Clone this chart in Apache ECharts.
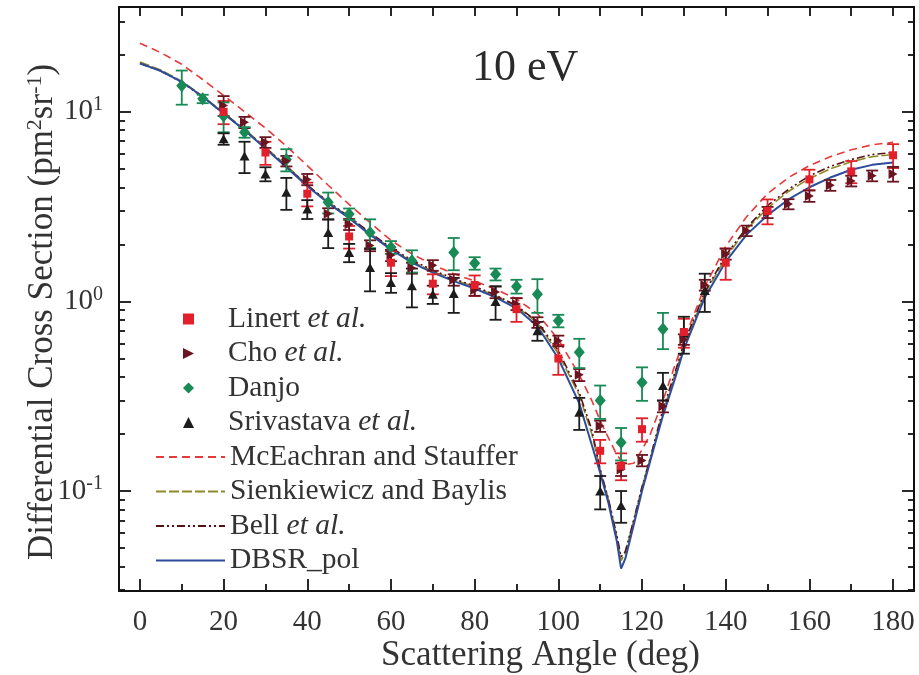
<!DOCTYPE html>
<html><head><meta charset="utf-8">
<script src="https://cdn.jsdelivr.net/npm/echarts@6/dist/echarts.min.js"></script>
<style>html,body{margin:0;padding:0;background:#fff}#c{width:919px;height:675px}</style>
</head><body><div id="c"></div>
<script>
// ---------- axis ticks ----------
const xMajorTicks = [0, 20, 40, 60, 80, 100, 120, 140, 160, 180];
const xMinorTicks = [10, 30, 50, 70, 90, 110, 130, 150, 170];
const xTopTicks = [0, 10, 20, 30, 40, 50, 60, 70, 80, 90, 100, 110, 120, 130, 140, 150, 160, 170, 180];
const yMajorTicks = [0.1, 1, 10];
const yMinorTicks = [0.03, 0.04, 0.05, 0.06, 0.07, 0.08, 0.09, 0.2, 0.3, 0.4, 0.5, 0.6, 0.7, 0.8, 0.9, 2, 3, 4, 5, 6, 7, 8, 9, 20, 30];
const xRange = [-5, 185];
const yRange = [0.0297, 35.7];

// ---------- theory curves ----------
const thAngle = [0,5,10,15,20,25,30,35,40,45,50,55,60,65,70,75,80,85,90,95,100,105,108,110,112,114,115,116,118,120,122,125,128,130,135,140,145,150,155,160,165,170,175,180];
const mcEachran = [23,20.5,17.8,14.8,12.2,10.0,8.2,6.6,5.2,4.1,3.25,2.6,2.1,1.78,1.56,1.4,1.28,1.16,1.03,0.86,0.63,0.41,0.3,0.235,0.19,0.155,0.145,0.138,0.14,0.165,0.2,0.3,0.47,0.62,1.2,1.95,2.8,3.7,4.5,5.2,5.8,6.3,6.7,6.9];
const sienkiewicz = [18.3,16.6,14.5,12.1,9.9,8.1,6.5,5.2,4.1,3.35,2.78,2.28,1.9,1.62,1.44,1.3,1.19,1.07,0.94,0.77,0.53,0.32,0.2,0.13,0.09,0.057,0.043,0.047,0.07,0.105,0.15,0.26,0.42,0.58,1.1,1.7,2.4,3.1,3.8,4.45,5.0,5.45,5.8,5.95];
const bell = [18.0,16.4,14.3,12.0,9.8,8.0,6.45,5.15,4.1,3.35,2.8,2.3,1.92,1.65,1.46,1.32,1.2,1.08,0.95,0.78,0.55,0.33,0.21,0.13,0.09,0.058,0.045,0.048,0.07,0.105,0.15,0.27,0.43,0.6,1.12,1.75,2.45,3.2,3.9,4.6,5.15,5.6,5.95,6.1];
const dbsr = [18.0,16.4,14.4,12.0,9.8,8.0,6.4,5.1,4.05,3.3,2.75,2.25,1.88,1.6,1.42,1.28,1.17,1.05,0.92,0.74,0.50,0.29,0.175,0.125,0.086,0.054,0.039,0.044,0.066,0.10,0.145,0.25,0.40,0.56,1.05,1.62,2.25,2.85,3.45,4.0,4.5,4.95,5.25,5.4];

// ---------- experiments ----------
const linertAngle = [20,30,40,50,60,70,80,90,100,110,115,120,130,140,150,160,170,180];
const linertValue = [10.0,6.1,3.7,2.2,1.6,1.24,1.22,0.91,0.50,0.163,0.136,0.212,0.69,1.6,3.0,4.4,4.85,5.9];
const linertErr   = [1.4,0.85,0.53,0.3,0.24,0.15,0.15,0.13,0.09,0.023,0.022,0.03,0.12,0.3,0.45,0.55,0.65,0.85];

const choAngle = [20,25,30,35,40,45,50,55,60,65,70,75,80,85,90,95,100,105,110,115,120,125,130,135,140,145,150,155,160,165,170,175,180];
const choValue = [10.8,8.8,6.9,5.5,4.4,2.9,2.55,1.97,1.75,1.5,1.55,1.3,1.15,1.12,0.97,0.775,0.62,0.41,0.22,0.13,0.145,0.28,0.63,1.22,1.78,2.36,2.95,3.26,3.6,4.1,4.32,4.6,4.7];
const choErr   = [1.3,0.6,0.45,0.35,0.3,0.2,0.17,0.13,0.12,0.1,0.1,0.09,0.08,0.08,0.07,0.05,0.04,0.03,0.015,0.01,0.01,0.02,0.04,0.08,0.12,0.15,0.2,0.2,0.25,0.27,0.28,0.3,0.42];

const danjoAngle = [10,15,20,25,35,45,50,55,60,65,75,80,85,90,95,100,105,110,115,120,125];
const danjoValue = [13.7,11.7,9.5,7.8,5.6,3.33,2.89,2.31,1.93,1.64,1.81,1.59,1.39,1.2,1.09,0.79,0.54,0.30,0.18,0.374,0.715];
const danjoErr   = [2.8,0.6,1.7,0.5,0.75,0.42,0.2,0.4,0.15,0.22,0.35,0.12,0.1,0.1,0.22,0.06,0.095,0.06,0.035,0.075,0.155];

const srivAngle = [20,25,30,35,40,45,50,55,60,65,70,75,85,95,105,110,115,125,130,135];
const srivValue = [7.2,5.85,4.7,3.76,3.07,2.31,1.81,1.51,1.26,1.21,1.09,1.1,1.0,0.70,0.26,0.10,0.084,0.36,0.68,1.14];
const srivErr   = [0.5,1.1,0.4,0.72,0.35,0.4,0.2,0.38,0.15,0.28,0.12,0.23,0.2,0.08,0.05,0.02,0.016,0.06,0.15,0.26];

// ---------- legend text ----------
const pointLegend = ['Linert','Cho','Danjo','Srivastava'];
const lineLegend = ['McEachran','Sienkiewicz','Bell','DBSR_pol'];
const legendText = {
  'Linert': 'Linert {i|et al.}',
  'Cho': 'Cho {i|et al.}',
  'Danjo': 'Danjo',
  'Srivastava': 'Srivastava {i|et al.}',
  'McEachran': 'McEachran and Stauffer',
  'Sienkiewicz': 'Sienkiewicz and Baylis',
  'Bell': 'Bell {i|et al.}',
  'DBSR_pol': 'DBSR_pol'
};

const FONT = 'Liberation Serif, DejaVu Serif, serif';
const TXT = '#333';
const AX = '#111';
const LFS = 29.5;

const zip = (a, b) => a.map((v, i) => [v, b[i]]);
const errData = (a, v, e) => a.map((x, i) => [x, v[i] - e[i], v[i] + e[i]]);

function errRender(color) {
  return function (params, api) {
    const x = api.value(0);
    const p1 = api.coord([x, api.value(1)]);
    const p2 = api.coord([x, api.value(2)]);
    const w = 6;
    const st = { stroke: color, lineWidth: 1.8 };
    return {
      type: 'group',
      children: [
        { type: 'line', shape: { x1: p1[0], y1: p1[1], x2: p2[0], y2: p2[1] }, style: st },
        { type: 'line', shape: { x1: p1[0] - w, y1: p1[1], x2: p1[0] + w, y2: p1[1] }, style: st },
        { type: 'line', shape: { x1: p2[0] - w, y1: p2[1], x2: p2[0] + w, y2: p2[1] }, style: st }
      ]
    };
  };
}

const logMin = Math.log10(yRange[0]);
const logMax = Math.log10(yRange[1]);
const lg = arr => arr.map(v => Math.log10(v));

const C = {
  linert: '#e2202b', cho: '#6a1420', danjo: '#178a55', sriv: '#1c1c1c',
  mce: '#e53a3a', sie: '#8e8a2a', bell: '#5a0f12', dbsr: '#2d4c9c'
};

function lineSeries(name, data, color, width, dash, z) {
  return { name, type: 'line', data: zip(thAngle, data), symbol: 'none', showSymbol: false, xAxisIndex: 0, yAxisIndex: 0,
    lineStyle: { color, width, type: dash }, itemStyle: { color }, z, silent: true };
}
function errSeries(a, v, e, color) {
  return { type: 'custom', xAxisIndex: 0, yAxisIndex: 0, renderItem: errRender(color),
    encode: { x: 0, y: [1, 2] }, data: errData(a, v, e), z: 5, silent: true };
}
function scatSeries(name, a, v, color, symbol, size) {
  return { name, type: 'scatter', xAxisIndex: 0, yAxisIndex: 0, data: zip(a, v), symbol, symbolSize: size,
    itemStyle: { color, opacity: 1 }, z: 6, silent: true };
}

const tickStyle = { color: AX, width: 1.8 };
const legendTextStyle = { fontFamily: FONT, fontSize: LFS, color: TXT, lineHeight: 30,
  rich: { i: { fontFamily: FONT, fontSize: LFS, fontStyle: 'italic', color: TXT, lineHeight: 30 } } };
const hiddenLine = { show: true, onZero: false, lineStyle: { color: AX, width: 2 } };

const option = {
  animation: false,
  backgroundColor: '#fff',
  title: { text: '10 eV', left: 467, top: 41,
    textStyle: { fontFamily: FONT, fontSize: 44, fontWeight: 'normal', color: '#2a2a2a' } },
  grid: { left: 119, right: 5, top: 7, bottom: 84, containLabel: false, outerBoundsMode: 'none' },
  legend: [
    { data: pointLegend, orient: 'vertical', left: 178, top: 299,
      itemWidth: 11, itemHeight: 11, itemGap: 4.5, selectedMode: false,
      formatter: n => legendText[n],
      textStyle: Object.assign({}, legendTextStyle, { padding: [0, 0, 0, 29] }) },
    { data: lineLegend, orient: 'vertical', left: 150, top: 437,
      itemWidth: 69, itemHeight: 10, itemGap: 4.5, selectedMode: false,
      itemStyle: { color: 'rgba(0,0,0,0)', borderWidth: 0 },
      formatter: n => legendText[n],
      textStyle: legendTextStyle }
  ],
  xAxis: [
    { type: 'value', min: xRange[0], max: xRange[1], position: 'bottom',
      axisLine: hiddenLine,
      axisTick: { show: true, inside: true, length: 12, customValues: xMajorTicks, lineStyle: tickStyle },
      axisLabel: { show: true, customValues: xMajorTicks, margin: 17, fontFamily: FONT, fontSize: 29, color: TXT },
      splitLine: { show: false },
      name: 'Scattering Angle (deg)', nameLocation: 'middle', nameGap: 47, nameMoveOverlap: false,
      nameTextStyle: { fontFamily: FONT, fontSize: 35, color: TXT, padding: [0, 0, 0, 48] } },
    { type: 'value', min: xRange[0], max: xRange[1], position: 'bottom',
      axisLine: { show: false, onZero: false },
      axisTick: { show: true, inside: true, length: 7, customValues: xMinorTicks, lineStyle: tickStyle },
      axisLabel: { show: false }, splitLine: { show: false } },
    { type: 'value', min: xRange[0], max: xRange[1], position: 'top',
      axisLine: hiddenLine,
      axisTick: { show: true, inside: true, length: 9, customValues: xTopTicks, lineStyle: tickStyle },
      axisLabel: { show: false }, splitLine: { show: false } }
  ],
  yAxis: [
    { type: 'log', logBase: 10, min: yRange[0], max: yRange[1], position: 'left',
      axisLine: { show: false, onZero: false }, axisTick: { show: false }, axisLabel: { show: false }, splitLine: { show: false } },
    { type: 'value', min: logMin, max: logMax, position: 'left',
      axisLine: hiddenLine,
      axisTick: { show: true, inside: true, length: 12, customValues: lg(yMajorTicks), lineStyle: tickStyle },
      axisLabel: { show: true, customValues: lg(yMajorTicks), margin: 16,
        formatter: v => '10{s|' + Math.round(v) + '}',
        fontFamily: FONT, fontSize: 29, color: TXT,
        rich: { s: { fontFamily: FONT, fontSize: 20, color: TXT, padding: [0, 0, 14, 0] } } },
      splitLine: { show: false },
      name: 'Differential Cross Section (pm{s|2}sr{s|-1})', nameLocation: 'middle', nameGap: 58, nameMoveOverlap: false,
      nameTextStyle: { fontFamily: FONT, fontSize: 35, color: TXT, padding: [0, 26, 0, 0],
        rich: { s: { fontFamily: FONT, fontSize: 22, color: TXT, padding: [0, 0, 15, 0] } } } },
    { type: 'value', min: logMin, max: logMax, position: 'left',
      axisLine: { show: false, onZero: false },
      axisTick: { show: true, inside: true, length: 6, customValues: lg(yMinorTicks), lineStyle: tickStyle },
      axisLabel: { show: false }, splitLine: { show: false } },
    { type: 'value', min: logMin, max: logMax, position: 'right',
      axisLine: hiddenLine,
      axisTick: { show: true, inside: true, length: 12, customValues: lg(yMajorTicks), lineStyle: tickStyle },
      axisLabel: { show: false }, splitLine: { show: false } },
    { type: 'value', min: logMin, max: logMax, position: 'right',
      axisLine: { show: false, onZero: false },
      axisTick: { show: true, inside: true, length: 6, customValues: lg(yMinorTicks), lineStyle: tickStyle },
      axisLabel: { show: false }, splitLine: { show: false } }
  ],
  series: [
    lineSeries('McEachran', mcEachran, C.mce, 1.6, [8, 5], 2),
    lineSeries('Sienkiewicz', sienkiewicz, C.sie, 1.6, [10, 3], 2),
    lineSeries('Bell', bell, C.bell, 1.6, [8, 3, 2, 3, 2, 3], 2),
    lineSeries('DBSR_pol', dbsr, C.dbsr, 2, 'solid', 3),
    errSeries(linertAngle, linertValue, linertErr, C.linert),
    errSeries(choAngle, choValue, choErr, C.cho),
    errSeries(danjoAngle, danjoValue, danjoErr, C.danjo),
    errSeries(srivAngle, srivValue, srivErr, C.sriv),
    scatSeries('Danjo', danjoAngle, danjoValue, C.danjo, 'diamond', [11, 13]),
    scatSeries('Srivastava', srivAngle, srivValue, C.sriv, 'triangle', [10, 9]),
    scatSeries('Cho', choAngle, choValue, C.cho, 'path://M0,0L10,5L0,10Z', [9, 10]),
    scatSeries('Linert', linertAngle, linertValue, C.linert, 'rect', 8)
  ]
};

const chart = echarts.init(document.getElementById('c'), null, { renderer: 'canvas' });
chart.setOption(option);
</script>
</body></html>
